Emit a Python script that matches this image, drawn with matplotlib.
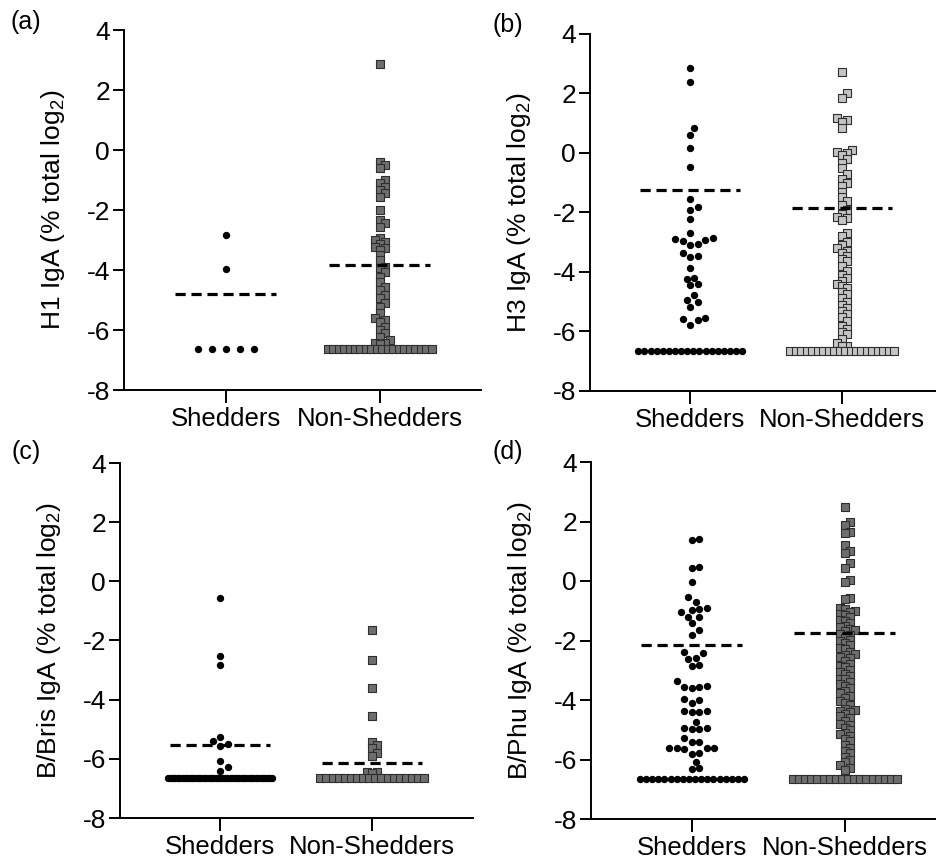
import numpy as np
import matplotlib
matplotlib.use("Agg")
import matplotlib.pyplot as plt

plt.rcParams["font.family"] = ["Liberation Sans", "DejaVu Sans"]
plt.rcParams["mathtext.default"] = "regular"
plt.rcParams["axes.unicode_minus"] = False

FLOOR = -6.64
categories = ["Shedders", "Non-Shedders"]
panel_tags = ["(a)", "(b)", "(c)", "(d)"]
ylabels = [
    "H1 IgA (% total log$_2$)",
    "H3 IgA (% total log$_2$)",
    "B/Bris IgA (% total log$_2$)",
    "B/Phu IgA (% total log$_2$)",
]

# (a) H1
a_shed = [-2.85, -3.97] + [FLOOR] * 5
a_non = [2.85, -0.39, -0.5, -0.61, -1.0, -1.1, -1.22, -1.33, -1.45, -1.56,
         -2.0, -2.33, -2.45, -2.56, -2.94, -3.0, -3.06, -3.15, -3.22, -3.28,
         -3.33, -3.5, -3.67, -3.89, -3.95, -4.06, -4.22, -4.39, -4.56, -4.67,
         -4.83, -4.94, -5.11, -5.22, -5.44, -5.6, -5.67, -5.72, -5.89, -6.0,
         -6.11, -6.22, -6.33, -6.44, -6.45, -6.46] + [FLOOR] * 20
# (b) H3
b_shed = [2.87, 2.40, 0.83, 0.61, 0.18, -0.46, -1.56, -1.80, -1.92, -2.22,
          -2.70, -2.86, -2.88, -2.92, -2.95, -3.05, -3.10, -3.37, -3.46, -3.50,
          -3.88, -4.19, -4.22, -4.41, -4.45, -4.77, -4.95, -5.02, -5.17, -5.55,
          -5.57, -5.60, -5.78] + [FLOOR] * 18
b_non = [2.71, 2.0, 1.85, 1.17, 1.1, 1.05, 0.83, 0.1, 0.04, 0.0, -0.06,
         -0.2, -0.33, -0.52, -0.7, -0.86, -1.0, -1.12, -1.3, -1.48, -1.6,
         -1.74, -1.9, -2.04, -2.15, -2.2, -2.26, -2.7, -2.8, -2.98, -3.1,
         -3.2, -3.28, -3.35, -3.45, -3.56, -3.64, -3.8, -3.95, -4.1, -4.2,
         -4.3, -4.4, -4.48, -4.55, -4.66, -4.75, -4.86, -5.0, -5.1, -5.2,
         -5.3, -5.42, -5.5, -5.66, -5.8, -5.9, -6.02, -6.1, -6.25, -6.38,
         -6.48, -6.5] + [FLOOR] * 20
# (c) B/Bris
c_shed = [-0.55, -2.51, -2.83, -5.27, -5.39, -5.5, -5.55, -6.07, -6.29,
          -6.42] + [FLOOR] * 45
c_non = [-1.66, -2.66, -3.59, -4.54, -5.42, -5.53, -5.65, -5.79, -5.9,
         -6.43, -6.45, -6.47] + [FLOOR] * 18
# (d) B/Phu
d_shed = [1.41, 1.38, 0.48, 0.45, -0.03, -0.53, -0.72, -0.92, -0.94, -0.96,
          -1.03, -1.2, -1.22, -1.42, -1.65, -1.82, -2.4, -2.43, -2.58, -2.62,
          -2.82, -2.85, -3.36, -3.54, -3.55, -3.57, -3.58, -3.98, -4.0, -4.1,
          -4.37, -4.38, -4.4, -4.41, -4.73, -4.94, -4.95, -4.97, -4.98, -5.29,
          -5.4, -5.42, -5.6, -5.61, -5.62, -5.63, -5.64, -5.78, -5.8, -6.07,
          -6.3, -6.32] + [FLOOR] * 18
d_non = [2.48, 1.99, 1.88, 1.66, 1.6, 1.21, 1.0, 0.93, 0.59, 0.43, 0.03,
         -0.02, -0.57, -0.6, -0.92, -0.95, -1.0, -1.03, -1.1, -1.14, -1.22,
         -1.3, -1.33, -1.41, -1.5, -1.54, -1.6, -1.66, -1.68, -1.77, -1.8,
         -1.9, -1.97, -2.02, -2.1, -2.15, -2.24, -2.3, -2.38, -2.45, -2.5,
         -2.57, -2.6, -2.7, -2.78, -2.85, -2.9, -3.0, -3.05, -3.12, -3.2,
         -3.28, -3.3, -3.38, -3.45, -3.52, -3.6, -3.7, -3.78, -3.88, -3.92,
         -4.02, -4.1, -4.18, -4.3, -4.35, -4.38, -4.42, -4.47, -4.55, -4.6,
         -4.7, -4.8, -4.85, -4.93, -5.02, -5.1, -5.14, -5.2, -5.3, -5.38,
         -5.5, -5.6, -5.7, -5.78, -5.9, -6.02, -6.1, -6.2, -6.3, -6.35] + [FLOOR] * 18

groups = [(a_shed, a_non), (b_shed, b_non), (c_shed, c_non), (d_shed, d_non)]
line_vals = [(-4.8, -3.82), (-1.25, -1.85), (-5.53, -6.15), (-2.15, -1.74)]
square_fill = ["#6e6e6e", "#c4c4c4", "#6e6e6e", "#6e6e6e"]


def swarm(vals, px_y, d, maxhalf, square):
    # offsets in pixels, prism-like: ties go in a row, rest pushed sideways
    vals = np.asarray(vals, float)
    off = np.zeros(len(vals))
    done = np.zeros(len(vals), bool)
    placed = []
    uniq, counts = np.unique(vals, return_counts=True)
    for u, c in zip(uniq, counts):
        if c >= 3:
            idx = np.where(vals == u)[0]
            step = min(14.0, 104.0 / (c - 1))
            off[idx] = (np.arange(c) - (c - 1) / 2) * step
            done[idx] = True
    for i in np.argsort(vals):
        if done[i]:
            continue
        y = vals[i] * px_y
        cands = [0.0]
        k = 1
        while k * d / 2 <= maxhalf:
            cands += [k * d / 2, -k * d / 2]
            k += 1
        best, best_dist = 0.0, -1
        for x in cands:
            if placed:
                p = np.array(placed)
                if square:
                    dist = np.max(np.abs(p - [x, y]), axis=1).min()
                else:
                    dist = np.hypot(p[:, 0] - x, p[:, 1] - y).min()
            else:
                dist = np.inf
            if dist >= d:
                best = x
                break
            if dist > best_dist:
                best, best_dist = x, dist
        off[i] = best
        placed.append((best, y))
    return off


fig = plt.figure(figsize=(9.37, 8.63), dpi=100)
W, H = 937, 863
# left, top, bottom of each y-axis in pixels, plus category spacing
boxes = [(124, 30, 390, 154), (590, 34, 391, 152), (120, 463, 818, 152), (591, 462, 819, 153)]
tag_pos = [(26, 22), (508, 25), (26, 452), (508, 452)]
xlim = (-0.66, 1.66)

for k in range(4):
    left, top, bot, sp = boxes[k]
    wpx = (xlim[1] - xlim[0]) * sp
    ax = fig.add_axes([left / W, 1 - bot / H, wpx / W, (bot - top) / H])
    ax.set_xlim(*xlim)
    ax.set_ylim(-8, 4)
    for s in ["top", "right"]:
        ax.spines[s].set_visible(False)
    for s in ["left", "bottom"]:
        ax.spines[s].set_linewidth(1.4)
    ax.set_yticks(np.arange(-8, 5, 2))
    ax.set_xticks([0, 1])
    ax.set_xticklabels(categories, fontsize=18.5)
    ax.tick_params(axis="y", labelsize=19, length=8, width=1.4, pad=2)
    ax.tick_params(axis="x", length=9, width=1.4, pad=3)
    ax.set_ylabel(ylabels[k], fontsize=19)
    ax.yaxis.label.set_verticalalignment("center")
    ax.yaxis.set_label_coords(-71 / wpx, 0.5)

    px_y = (bot - top) / 12.0
    shed, non = groups[k]
    xo = swarm(shed, px_y, 7.5, 60, False) / sp
    ax.scatter(xo, shed, s=28, color="black", lw=0, zorder=3)
    xo = swarm(non, px_y, 5.0, 60, True) / sp
    ax.scatter(1 + xo, non, s=32, marker="s", facecolor=square_fill[k],
               edgecolor="#2e2e2e", lw=0.8, zorder=3)

    for c, m in zip([0, 1], line_vals[k]):
        ax.plot([c - 0.33, c + 0.33], [m, m], color="black", lw=2.3,
                dashes=(3.2, 1.8), zorder=4)

    fig.text(tag_pos[k][0] / W, 1 - tag_pos[k][1] / H, panel_tags[k],
             fontsize=18, ha="center", va="center")

fig.savefig("out.png", dpi=100)
